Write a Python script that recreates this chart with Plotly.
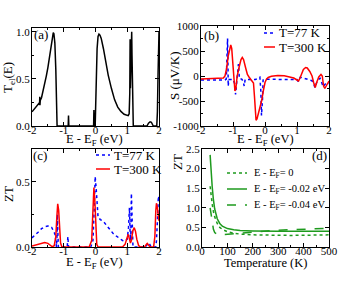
import plotly.graph_objects as go

W, H = 363, 281

# ---------------- data ----------------
# (a) transmission
E_a = [-2.0, -1.9, -1.8, -1.76, -1.755, -1.75, -1.74, -1.7, -1.65, -1.6, -1.55, -1.5, -1.45, -1.4,
       -1.36, -1.33, -1.31, -1.28, -1.25, -1.23, -1.21, -0.86, -0.85, -0.84, -0.06, -0.05, -0.04,
       -0.01, 0.02, 0.05, 0.08, 0.11, 0.14, 0.18, 0.25, 0.3, 0.35, 0.4, 0.5, 0.6, 0.7, 0.8, 0.9,
       1.0, 1.03, 1.06, 1.08, 1.09, 1.1, 1.12, 1.14, 1.15, 1.17, 1.19, 1.21, 1.62, 1.67, 1.72,
       1.76, 1.82, 1.93, 1.95, 1.97, 1.99, 2.0]
T_a = [0.15, 0.19, 0.23, 0.25, 0.31, 0.22, 0.27, 0.30, 0.37, 0.43, 0.53, 0.62, 0.74, 0.87,
       0.96, 0.99, 0.98, 0.88, 0.60, 0.20, 0.0, 0.0, 0.11, 0.0, 0.0, 0.17, 0.0,
       0.0, 0.45, 0.82, 0.95, 0.975, 0.965, 0.93, 0.82, 0.72, 0.63, 0.54, 0.40, 0.28, 0.20, 0.155, 0.125,
       0.11, 0.11, 0.13, 0.35, 0.92, 0.40, 0.70, 1.0, 0.75, 0.15, 0.0, 0.0, 0.0, 0.03, 0.045,
       0.04, 0.0, 0.0, 0.15, 0.55, 0.95, 1.0]

# (b) Seebeck coefficient
E_b77 = [-2.0, -1.25, -1.21, -1.19, -1.17, -1.16, -1.15, -1.13, -1.0, -0.95, -0.92, -0.89, -0.86,
         -0.83, -0.8, -0.72, -0.68, -0.65, -0.62, -0.3, -0.2, -0.16, -0.13, -0.11, -0.08, -0.06,
         0.0, 0.5, 1.0, 1.04, 1.07, 1.1, 1.2, 1.3, 1.4, 1.47, 1.52, 1.56, 1.6, 1.66, 1.72, 1.77,
         1.82, 1.87, 1.93, 2.0]
S_b77 = [-80, -78, -60, 300, 750, 400, -200, -70, -70, -150, -370, -100, 150,
         240, -50, -65, -120, -200, -70, -70, -40, -25, -300, -790, -500, -80,
         -66, -66, -70, -110, -60, -25, -40, -55, -75, -95, -150, -230, -150, -80, -45, -120,
         -215, -170, -140, -150]
E_b300 = [-2.0, -1.4, -1.3, -1.25, -1.2, -1.15, -1.1, -1.07, -1.04, -1.0, -0.97, -0.94, -0.91,
          -0.87, -0.8, -0.75, -0.71, -0.67, -0.6, -0.55, -0.5, -0.45, -0.4, -0.36, -0.33, -0.3,
          -0.28, -0.25, -0.2, -0.15, -0.1, -0.05, 0.0, 0.05, 0.1, 0.2, 0.4, 0.6, 0.8, 0.9, 1.0,
          1.05, 1.1, 1.15, 1.2, 1.27, 1.32, 1.4, 1.47, 1.52, 1.57, 1.62, 1.68, 1.75, 1.79, 1.83,
          1.87, 1.93, 2.0]
S_b300 = [-60, -55, -40, 0, 150, 400, 580, 620, 550, 200, -150, -300, -250,
          0, 200, 330, 370, 330, 150, 30, -20, -60, -100, -140, -400, -800,
          -885, -860, -740, -610, -480, -290, -130, -60, -30, -5, 10, 5, -20, -40, -80,
          -100, -30, 60, 130, 170, 160, 90, 0, -130, -230, -120, -20, 30, 0, -200,
          -250, -180, -100]

# (c) ZT vs energy
E_c77 = [-2.0, -1.9, -1.8, -1.7, -1.6, -1.5, -1.44, -1.38, -1.32, -1.28, -1.25, -1.23, -1.21, -1.2,
         -1.19, -1.17, -0.89, -0.87, -0.85, -0.15, -0.08, -0.04, -0.01, 0.02, 0.05, 0.08, 0.15,
         0.25, 0.35, 0.45, 0.55, 0.65, 0.75, 0.85, 0.93, 1.0, 1.04, 1.07, 1.09, 1.11, 1.13, 1.15,
         1.18, 1.58, 1.62, 1.66, 1.71, 1.75, 1.9, 1.92, 1.95, 1.98, 2.0]
Z_c77 = [0.07, 0.09, 0.115, 0.14, 0.155, 0.16, 0.16, 0.15, 0.12, 0.10, 0.05, 0.0, 0.10, 0.25,
         0.15, 0.0, 0.0, 0.08, 0.0, 0.0, 0.05, 0.30, 0.54, 0.45, 0.30, 0.23, 0.21,
         0.195, 0.165, 0.13, 0.105, 0.085, 0.065, 0.05, 0.045, 0.06, 0.15, 0.30, 0.10, 0.05, 0.41, 0.20,
         0.0, 0.0, 0.02, 0.033, 0.02, 0.0, 0.0, 0.05, 0.20, 0.39, 0.37]
E_c300 = [-2.0, -1.9, -1.8, -1.7, -1.6, -1.5, -1.42, -1.36, -1.3, -1.25, -1.22, -1.19, -1.16, -1.13,
          -1.1, -1.06, -0.2, -0.12, -0.08, -0.05, -0.02, 0.01, 0.04, 0.08, 0.85, 0.93, 0.98, 1.03,
          1.07, 1.1, 1.13, 1.17, 1.22, 1.26, 1.3, 1.36, 1.42, 1.55, 1.6, 1.63, 1.67, 1.72, 1.83,
          1.87, 1.9, 1.92, 1.95, 1.98, 2.0]
Z_c300 = [0.008, 0.015, 0.025, 0.033, 0.035, 0.028, 0.012, 0.002, 0.01, 0.08, 0.22, 0.33, 0.28, 0.12,
          0.03, 0.0, 0.0, 0.05, 0.30, 0.455, 0.35, 0.12, 0.02, 0.0, 0.0, 0.02, 0.06, 0.097,
          0.06, 0.03, 0.05, 0.12, 0.148, 0.12, 0.06, 0.01, 0.0, 0.0, 0.02, 0.028, 0.015, 0.0, 0.0,
          0.08, 0.28, 0.335, 0.30, 0.22, 0.20]

# (d) ZT vs temperature
T_d = [32, 35, 40, 45, 50, 60, 70, 80, 100, 125, 150, 200, 250, 300, 350, 400, 450, 500]
ZT_d0 = [1.55, 1.35, 1.10, 0.90, 0.77, 0.60, 0.50, 0.45, 0.39, 0.35, 0.33, 0.31, 0.30, 0.295,
         0.295, 0.30, 0.305, 0.31]
ZT_d02 = [2.35, 2.0, 1.55, 1.2, 0.97, 0.72, 0.60, 0.53, 0.47, 0.44, 0.42, 0.41, 0.40, 0.40,
          0.40, 0.40, 0.40, 0.40]
ZT_d04 = [1.0, 0.85, 0.60, 0.45, 0.37, 0.32, 0.31, 0.315, 0.33, 0.35, 0.37, 0.39, 0.41, 0.43,
          0.44, 0.45, 0.47, 0.48]

# tick labels
E_ticks = [-2, -1, 0, 1, 2]
E_ticklabels = ["-2", "-1", "0", "1", "2"]
S_ticks = [-1000, -500, 0, 500, 1000]
S_ticklabels = ["-1000", "-500", "0", "500", "1000"]

# ---------------- styling ----------------
FONT = "Liberation Serif, Times New Roman, serif"
BLUE = "#0000ff"
RED = "#ff0000"
GREEN = "#1e9a1e"
LW = 1.5


def px(x):
    return x / W


def py(y):
    return 1 - y / H


fig = go.Figure()
fig.add_trace(go.Scatter(x=E_a, y=T_a, mode="lines", line=dict(color="black", width=LW),
                         xaxis="x", yaxis="y", showlegend=False))
fig.add_trace(go.Scatter(x=E_b77, y=S_b77, mode="lines", line=dict(color=BLUE, width=LW, dash="dot"),
                         xaxis="x2", yaxis="y2", showlegend=False))
fig.add_trace(go.Scatter(x=E_b300, y=S_b300, mode="lines", line=dict(color=RED, width=LW),
                         xaxis="x2", yaxis="y2", showlegend=False))
fig.add_trace(go.Scatter(x=E_c77, y=Z_c77, mode="lines", line=dict(color=BLUE, width=LW, dash="dot"),
                         xaxis="x3", yaxis="y3", showlegend=False))
fig.add_trace(go.Scatter(x=E_c300, y=Z_c300, mode="lines", line=dict(color=RED, width=LW),
                         xaxis="x3", yaxis="y3", showlegend=False))
fig.add_trace(go.Scatter(x=T_d, y=ZT_d0, mode="lines", line=dict(color=GREEN, width=LW, dash="dot"),
                         xaxis="x4", yaxis="y4", showlegend=False))
fig.add_trace(go.Scatter(x=T_d, y=ZT_d02, mode="lines", line=dict(color=GREEN, width=LW),
                         xaxis="x4", yaxis="y4", showlegend=False))
fig.add_trace(go.Scatter(x=T_d, y=ZT_d04, mode="lines", line=dict(color=GREEN, width=LW, dash="dash"),
                         xaxis="x4", yaxis="y4", showlegend=False))


def ax(domain, rng, anchor, minor_dtick=None, standoff=0, **kw):
    d = dict(domain=domain, range=rng, anchor=anchor, showline=True, linecolor="black",
             linewidth=1, mirror="allticks", ticks="inside", ticklen=4, tickwidth=1,
             tickcolor="black", showgrid=False, zeroline=False, automargin=False,
             ticklabelstandoff=standoff,
             tickfont=dict(family=FONT, size=11, color="black"))
    if minor_dtick is not None:
        d["minor"] = dict(dtick=minor_dtick, ticks="inside", ticklen=2, tickcolor="black",
                          showgrid=False)
    d.update(kw)
    return d


xa_dom = [px(32), px(159)]
xb_dom = [px(201), px(329)]
xd_dom = [px(202), px(329)]
ytop_a = [py(126), py(28)]
ytop_b = [py(126), py(26)]
ybot = [py(247), py(149)]

XS = -6
YS = -1

fig.update_layout(
    width=W, height=H, margin=dict(l=0, r=0, t=0, b=0, pad=0),
    paper_bgcolor="white", plot_bgcolor="white", showlegend=False,
    font=dict(family=FONT, color="black"),
    xaxis=ax(xa_dom, [-2, 2], "y", 0.5, XS, tickvals=E_ticks, ticktext=E_ticklabels),
    yaxis=ax(ytop_a, [0, 1.04], "x", 0.25, YS, dtick=0.5, tickformat=".1f"),
    xaxis2=ax(xb_dom, [-2, 2], "y2", 0.5, XS, tickvals=E_ticks, ticktext=E_ticklabels),
    yaxis2=ax(ytop_b, [-1000, 1000], "x2", 250, YS, tickvals=S_ticks, ticktext=S_ticklabels),
    xaxis3=ax(xa_dom, [-2, 2], "y3", 0.5, XS, tickvals=E_ticks, ticktext=E_ticklabels),
    yaxis3=ax(ybot, [0, 0.75], "x3", 0.25, YS, dtick=0.5, tickformat=".1f"),
    xaxis4=ax(xd_dom, [0, 500], "y4", 50, XS, dtick=100),
    yaxis4=ax(ybot, [0, 2.5], "x4", None, YS, dtick=0.5, tickformat=".1f"),
)

ann = []


def text(x, y, s, size=13, xanchor="center", angle=0):
    ann.append(dict(x=px(x), y=py(y), xref="paper", yref="paper", text=s, showarrow=False,
                    xanchor=xanchor, yanchor="middle", textangle=angle,
                    font=dict(family=FONT, size=size, color="black")))


# axis titles
text(95, 140, "E - E<sub>F</sub> (eV)", size=12.5)
text(265, 140, "E - E<sub>F</sub> (eV)", size=12.5)
text(95, 263, "E - E<sub>F</sub> (eV)", size=12.5)
text(265, 263, "Temperature (K)", size=12.5)
text(8, 78, "T<sub>el</sub>(E)", angle=-90)
text(174, 76, "S (μV/K)", angle=-90)
text(8, 194, "ZT", angle=-90)
text(177, 162, "ZT", angle=-90)
# panel labels
text(41, 34, "(a)")
text(211, 35, "(b)")
text(40, 155, "(c)")
text(319, 155, "(d)")

shapes = []


def leg_line(x0, x1, y, color, dash):
    shapes.append(dict(type="line", xref="paper", yref="paper", x0=px(x0), x1=px(x1),
                       y0=py(y), y1=py(y), line=dict(color=color, width=LW, dash=dash)))


# legend (b)
leg_line(264, 275, 33, BLUE, "dot")
leg_line(264, 275, 47, RED, "solid")
text(277, 33, "T=77 K", size=13, xanchor="left")
text(277, 47, "T=300 K", size=13, xanchor="left")
# legend (c)
leg_line(96, 110, 155, BLUE, "dot")
leg_line(96, 110, 169, RED, "solid")
text(112, 155, "T=77 K", size=13, xanchor="left")
text(112, 169, "T=300 K", size=13, xanchor="left")
# legend (d)
leg_line(227, 247, 173, GREEN, "dot")
leg_line(227, 247, 189, GREEN, "solid")
leg_line(227, 247, 205, GREEN, "dash")
text(252, 173, "E - E<sub>F</sub>= 0", size=10.5, xanchor="left")
text(252, 189, "E - E<sub>F</sub>= -0.02 eV", size=10.5, xanchor="left")
text(252, 205, "E - E<sub>F</sub>= -0.04 eV", size=10.5, xanchor="left")

fig.update_layout(annotations=ann, shapes=shapes)
fig.write_html("out.html", config={"displayModeBar": False},
               post_script="document.body.style.margin='0';document.body.style.overflow='hidden';")
